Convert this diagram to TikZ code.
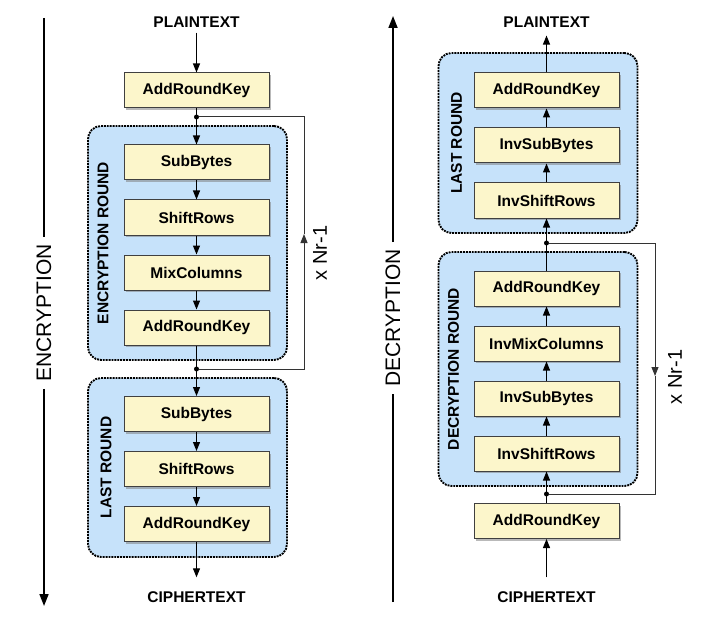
\documentclass[tikz,border=0pt]{standalone}
\usepackage{fontspec}
\setmainfont{Liberation Sans}
\usetikzlibrary{arrows.meta, shadows}
\usetikzlibrary{positioning}
\definecolor{stepyellow}{HTML}{FCF6CB}
\definecolor{roundblue}{HTML}{C6E2FA}
\tikzstyle{step_box} = [
    rectangle,
    draw=black!75,
    fill=stepyellow,
    line width=1pt,
    font=\fontsize{15.5}{18}\selectfont\bfseries,
    minimum width=145pt,
    minimum height=35pt,
    inner sep=0pt,
    drop shadow={shadow xshift=2pt, shadow yshift=-2pt, opacity=0.55}
]
\tikzstyle{round_box} = [
    rectangle,
    rounded corners=13pt,
    draw=black,
    fill=roundblue,
    line width=1.9pt,
    densely dotted,
    minimum width=199pt,
    inner sep=0pt
]
\tikzstyle{round_label} = [
    rotate=90,
    font=\fontsize{15.5}{18}\selectfont\bfseries
]
\tikzstyle{text_label} = [
    font=\fontsize{15.5}{18}\selectfont\bfseries,
    inner sep=5pt
]
\tikzstyle{phase_label} = [
    rotate=90,
    font=\fontsize{21}{24}\selectfont,
    inner xsep=7pt
]
\tikzstyle{repeat_label} = [
    rotate=90,
    font=\fontsize{20}{24}\selectfont
]
\tikzstyle{junction} = [
    circle,
    fill=black,
    inner sep=0pt,
    minimum size=5pt
]
\tikzstyle{flow} = [
    draw,
    line width=1.1pt,
    -{Triangle[length=9pt, width=7pt]}
]
\tikzstyle{loop_line} = [
    draw=black!80,
    line width=1pt
]
\tikzstyle{phase_line} = [
    draw,
    line width=1.7pt
]

\begin{document}
\begin{tikzpicture}[x=1pt, y=1pt, node distance=19pt]
\useasboundingbox (0,0) rectangle (708,-620);

% rounds
\node [round_box, minimum height=234pt] (enc_round) at (187.5,-243) {};
\node [round_box, minimum height=179pt] (enc_last) at (187.5,-467.5) {};
\node [round_box, minimum height=234pt] (dec_round) at (538,-369) {};
\node [round_box, minimum height=180pt] (dec_last) at (538,-143) {};
\node [round_label] (enc_round_label) at ([xshift=16pt]enc_round.west) {ENCRYPTION ROUND};
\node [round_label] (enc_last_label) at ([xshift=19pt]enc_last.west) {LAST ROUND};
\node [round_label] (dec_round_label) at ([xshift=16pt]dec_round.west) {DECRYPTION ROUND};
\node [round_label] (dec_last_label) at ([xshift=19pt]dec_last.west) {LAST ROUND};

% encryption
\node [text_label] (plain_enc) at (196.5,-22) {PLAINTEXT};
\node [step_box] (ark_enc0) at (196.5,-90.5) {AddRoundKey};
\node [step_box] (sb_enc1) at (196.5,-162.5) {SubBytes};
\node [step_box, below=of sb_enc1] (sr_enc1) {ShiftRows};
\node [step_box, below=of sr_enc1] (mc_enc1) {MixColumns};
\node [step_box, below=of mc_enc1] (ark_enc1) {AddRoundKey};
\node [step_box] (sb_enc2) at (196.5,-414) {SubBytes};
\node [step_box, below=of sb_enc2] (sr_enc2) {ShiftRows};
\node [step_box, below=of sr_enc2] (ark_enc2) {AddRoundKey};
\node [text_label] (cipher_enc) at (196.5,-597) {CIPHERTEXT};
\node [junction] (split_enc1) at (196.5,-117) {};
\node [junction] (split_enc2) at (196.5,-369) {};
\coordinate (loop_enc_top) at (304,-117);
\coordinate (loop_enc_tip) at (304,-234);
\coordinate (loop_enc_bot) at (304,-369);
\node [repeat_label] (nr_enc) at (320,-253) {x Nr-1};

\foreach \a/\b in {plain_enc/ark_enc0, ark_enc0/sb_enc1, sb_enc1/sr_enc1,
    sr_enc1/mc_enc1, mc_enc1/ark_enc1, ark_enc1/sb_enc2, sb_enc2/sr_enc2,
    sr_enc2/ark_enc2}
    \draw [flow] (\a) -- (\b);
\draw [flow, shorten >=9pt] (ark_enc2) -- (cipher_enc);
\draw [loop_line, -{Triangle[length=9pt, width=7pt]}] (split_enc2) -- (loop_enc_bot) -- (loop_enc_tip);
\draw [loop_line] (loop_enc_tip) -- (loop_enc_top) -- (split_enc1);

% decryption
\node [text_label] (plain_dec) at (546.5,-22) {PLAINTEXT};
\node [step_box] (ark_dec2) at (546.5,-90.5) {AddRoundKey};
\node [step_box, below=of ark_dec2] (isb_dec2) {InvSubBytes};
\node [step_box, below=of isb_dec2] (isr_dec2) {InvShiftRows};
\node [step_box] (ark_dec1) at (546.5,-288.5) {AddRoundKey};
\node [step_box, below=of ark_dec1] (imc_dec1) {InvMixColumns};
\node [step_box, below=of imc_dec1] (isb_dec1) {InvSubBytes};
\node [step_box, below=of isb_dec1] (isr_dec1) {InvShiftRows};
\node [step_box] (ark_dec0) at (546.5,-521) {AddRoundKey};
\node [text_label] (cipher_dec) at (546.5,-597) {CIPHERTEXT};
\node [junction] (split_dec2) at (546.5,-243) {};
\node [junction] (split_dec1) at (546.5,-494) {};
\coordinate (loop_dec_top) at (655,-243);
\coordinate (loop_dec_tip) at (655,-376);
\coordinate (loop_dec_bot) at (655,-494);
\node [repeat_label] (nr_dec) at (675,-377) {x Nr-1};

\foreach \a/\b in {ark_dec0/isr_dec1, isr_dec1/isb_dec1, isb_dec1/imc_dec1,
    imc_dec1/ark_dec1, ark_dec1/isr_dec2, isr_dec2/isb_dec2, isb_dec2/ark_dec2}
    \draw [flow] (\a) -- (\b);
\draw [flow, shorten <=9pt] (cipher_dec) -- (ark_dec0);
\draw [flow, shorten >=3pt] (ark_dec2) -- (plain_dec);
\draw [loop_line, -{Triangle[length=9pt, width=7pt]}] (split_dec2) -- (loop_dec_top) -- (loop_dec_tip);
\draw [loop_line] (loop_dec_tip) -- (loop_dec_bot) -- (split_dec1);

% phases
\coordinate (enc_start) at (44,-18);
\coordinate (enc_end) at (44,-606);
\node [phase_label] (enc_phase) at (44,-313) {ENCRYPTION};
\draw [phase_line] (enc_start) -- (enc_phase);
\draw [phase_line, -{Triangle[length=12pt, width=9pt]}] (enc_phase) -- (enc_end);
\coordinate (dec_start) at (393,-602);
\coordinate (dec_end) at (393,-16);
\node [phase_label] (dec_phase) at (393,-318) {DECRYPTION};
\draw [phase_line] (dec_start) -- (dec_phase);
\draw [phase_line, -{Triangle[length=12pt, width=9pt]}] (dec_phase) -- (dec_end);
\end{tikzpicture}
\end{document}
